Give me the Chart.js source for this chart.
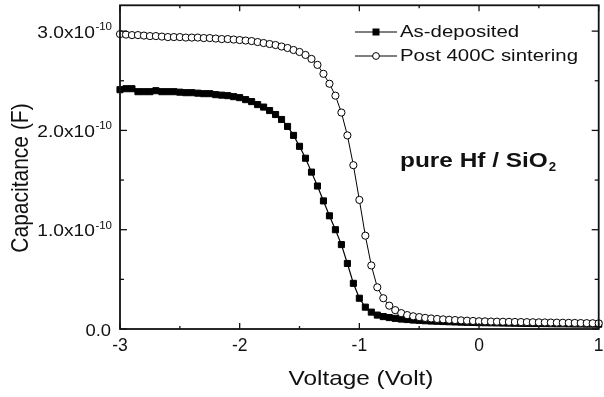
<!DOCTYPE html>
<html>
<head>
<meta charset="utf-8">
<script src="https://cdn.jsdelivr.net/npm/chart.js@4.4.0/dist/chart.umd.min.js"></script>
<style>
body{margin:0;background:#fff}
</style>
</head>
<body>
<canvas id="chartArea" width="604" height="397"></canvas>
<script>
// gate voltage sweep (V)
var voltage = [
  -3.00, -2.95, -2.90, -2.85, -2.80, -2.75, -2.70, -2.65, -2.60, -2.55,
  -2.50, -2.45, -2.40, -2.35, -2.30, -2.25, -2.20, -2.15, -2.10, -2.05,
  -2.00, -1.95, -1.90, -1.85, -1.80, -1.75, -1.70, -1.65, -1.60, -1.55,
  -1.50, -1.45, -1.40, -1.35, -1.30, -1.25, -1.20, -1.15, -1.10, -1.05,
  -1.00, -0.95, -0.90, -0.85, -0.80, -0.75, -0.70, -0.65, -0.60, -0.55,
  -0.50, -0.45, -0.40, -0.35, -0.30, -0.25, -0.20, -0.15, -0.10, -0.05,
  0.00, 0.05, 0.10, 0.15, 0.20, 0.25, 0.30, 0.35, 0.40, 0.45,
  0.50, 0.55, 0.60, 0.65, 0.70, 0.75, 0.80, 0.85, 0.90, 0.95, 1.00
]
// capacitance, in units of 1e-10 F
var asDeposited = [
  2.41, 2.42, 2.42, 2.39, 2.39, 2.39, 2.40, 2.39, 2.39, 2.39,
  2.385, 2.38, 2.38, 2.375, 2.37, 2.37, 2.36, 2.355, 2.35, 2.34,
  2.33, 2.31, 2.29, 2.26, 2.235, 2.20, 2.16, 2.11, 2.04, 1.95,
  1.84, 1.72, 1.58, 1.44, 1.29, 1.14, 1.00, 0.85, 0.66, 0.46,
  0.31, 0.22, 0.17, 0.14, 0.125, 0.115, 0.107, 0.100, 0.095, 0.090,
  0.087, 0.083, 0.080, 0.078, 0.075, 0.073, 0.071, 0.069, 0.067, 0.066,
  0.064, 0.063, 0.062, 0.061, 0.060, 0.059, 0.058, 0.057, 0.056, 0.055,
  0.055, 0.054, 0.053, 0.052, 0.052, 0.051, 0.050, 0.050, 0.049, 0.049, 0.048
]
var postSinter = [
  2.97, 2.965, 2.96, 2.96, 2.955, 2.95, 2.95, 2.945, 2.94, 2.94,
  2.94, 2.935, 2.935, 2.935, 2.93, 2.93, 2.925, 2.92, 2.92, 2.915,
  2.91, 2.905, 2.90, 2.89, 2.88, 2.87, 2.86, 2.845, 2.83, 2.81,
  2.79, 2.76, 2.72, 2.66, 2.57, 2.47, 2.35, 2.18, 1.95, 1.65,
  1.30, 0.94, 0.64, 0.42, 0.31, 0.235, 0.19, 0.16, 0.14, 0.128,
  0.120, 0.112, 0.106, 0.101, 0.097, 0.093, 0.090, 0.087, 0.084, 0.081,
  0.078, 0.077, 0.075, 0.074, 0.073, 0.072, 0.071, 0.070, 0.069, 0.068,
  0.067, 0.066, 0.065, 0.064, 0.063, 0.062, 0.061, 0.060, 0.059, 0.058, 0.057
]
var seriesNames = ['As-deposited', 'Post 400C sintering']
var xTitle = 'Voltage (Volt)'
var yTitle = 'Capacitance (F)'
var noteText = 'pure Hf / SiO'
var noteSub = '2'

var FONT = '"Liberation Sans", Arial, sans-serif'

function pts(ys){
  return voltage.map(function(v, i){ return {x: v, y: ys[i]} })
}

// text drawn a bit wide, like the scanned figure
function wideText(ctx, str, x, y, sx, align){
  ctx.save()
  ctx.translate(x, y)
  ctx.scale(sx, 1)
  ctx.textAlign = align
  ctx.fillText(str, 0, 0)
  ctx.restore()
}

function seg(ctx, x1, y1, x2, y2){
  ctx.beginPath()
  ctx.moveTo(x1, y1)
  ctx.lineTo(x2, y2)
  ctx.stroke()
}

function isStep(v, n){
  return Math.abs(v * n - Math.round(v * n)) < 1e-6
}

var framePlugin = {
  id: 'frame',
  afterDraw: function(chart){
    var ctx = chart.ctx
    var a = chart.chartArea
    var xs = chart.scales.x
    var ys = chart.scales.y
    ctx.save()
    ctx.strokeStyle = '#111'
    ctx.fillStyle = '#111'
    ctx.lineWidth = 1.8
    ctx.strokeRect(a.left, a.top, a.right - a.left, a.bottom - a.top)

    // inward ticks + x labels
    ctx.lineWidth = 1.3
    ctx.font = '17.5px ' + FONT
    ctx.textBaseline = 'middle'
    xs.ticks.forEach(function(t){
      if(!isStep(t.value, 2)) return
      var px = xs.getPixelForValue(t.value)
      var major = isStep(t.value, 1)
      var len = major ? 6 : 3
      seg(ctx, px, a.bottom, px, a.bottom - len)
      seg(ctx, px, a.top, px, a.top + len)
      if(major){
        ctx.textAlign = 'center'
        ctx.fillText(String(Math.round(t.value)), px, 346)
      }
    })

    // y ticks + labels with exponent
    ys.ticks.forEach(function(t){
      if(!isStep(t.value, 2)) return
      var py = ys.getPixelForValue(t.value)
      var major = isStep(t.value, 1)
      var len = major ? 7 : 4
      seg(ctx, a.left, py, a.left + len, py)
      seg(ctx, a.right, py, a.right - len, py)
      if(!major) return
      ctx.textBaseline = 'alphabetic'
      var right = 112
      if(t.value === 0){
        ctx.font = '16px ' + FONT
        wideText(ctx, '0.0', right - 1, py + 6.5, 1.15, 'right')
      }else{
        ctx.font = '10px ' + FONT
        var sup = '-10'
        var ws = ctx.measureText(sup).width * 1.15
        wideText(ctx, sup, right, py - 1, 1.15, 'right')
        ctx.font = '16px ' + FONT
        wideText(ctx, t.value.toFixed(1) + 'x10', right - ws - 0.5, py + 6.5, 1.2, 'right')
      }
    })

    // axis titles
    ctx.font = '21px ' + FONT
    ctx.textBaseline = 'alphabetic'
    wideText(ctx, xTitle, 361, 385, 1.16, 'center')
    ctx.save()
    ctx.translate(28, 178)
    ctx.scale(1.15, 1)
    ctx.rotate(-Math.PI / 2)
    ctx.textAlign = 'center'
    ctx.fillText(yTitle, 0, 0)
    ctx.restore()

    // legend
    var rows = [32, 56]
    chart.data.datasets.forEach(function(ds, i){
      var y = rows[i]
      ctx.strokeStyle = '#000'
      ctx.lineWidth = 1
      seg(ctx, 355, y, 397, y)
      if(ds.pointStyle === 'rect'){
        ctx.fillStyle = '#000'
        ctx.fillRect(372.5, y - 3.5, 7, 7)
      }else{
        ctx.beginPath()
        ctx.arc(376, y, 3.4, 0, Math.PI * 2)
        ctx.fillStyle = '#fff'
        ctx.fill()
        ctx.stroke()
      }
      ctx.fillStyle = '#111'
      ctx.font = '17px ' + FONT
      ctx.textBaseline = 'middle'
      wideText(ctx, ds.label, 400, y, 1.2, 'left')
    })

    // annotation
    ctx.textBaseline = 'alphabetic'
    ctx.font = 'bold 20px ' + FONT
    var wn = ctx.measureText(noteText).width * 1.22
    wideText(ctx, noteText, 400, 167, 1.22, 'left')
    ctx.font = 'bold 12px ' + FONT
    wideText(ctx, noteSub, 400 + wn + 1, 171, 1.1, 'left')
    ctx.restore()
  }
}

var ctx = document.getElementById('chartArea').getContext('2d')
var chart = new Chart(ctx, {
  type: 'line',
  data: {
    datasets: [
      {
        label: seriesNames[0],
        data: pts(asDeposited),
        borderColor: '#000',
        borderWidth: 1.2,
        pointStyle: 'rect',
        pointRadius: 4.3,
        pointBorderWidth: 1,
        pointBackgroundColor: '#000',
        pointBorderColor: '#000',
        order: 1,
        clip: false
      },
      {
        label: seriesNames[1],
        data: pts(postSinter),
        borderColor: '#000',
        borderWidth: 1,
        pointStyle: 'circle',
        pointRadius: 3.6,
        pointBorderWidth: 1,
        pointBackgroundColor: '#fff',
        pointBorderColor: '#000',
        order: 0,
        clip: false
      }
    ]
  },
  options: {
    responsive: false,
    animation: false,
    devicePixelRatio: 1,
    layout: {padding: {left: 0, right: 2, top: 3, bottom: 0}},
    plugins: {legend: {display: false}, tooltip: {enabled: false}},
    scales: {
      x: {
        type: 'linear', min: -3, max: 1,
        ticks: {display: false, stepSize: 0.5},
        grid: {display: false}, border: {display: false},
        afterFit: function(s){ s.height = 68 }
      },
      y: {
        type: 'linear', min: 0, max: 3.26,
        ticks: {display: false, stepSize: 0.5},
        grid: {display: false}, border: {display: false},
        afterFit: function(s){ s.width = 120 }
      }
    }
  },
  plugins: [framePlugin]
})
</script>
</body>
</html>
